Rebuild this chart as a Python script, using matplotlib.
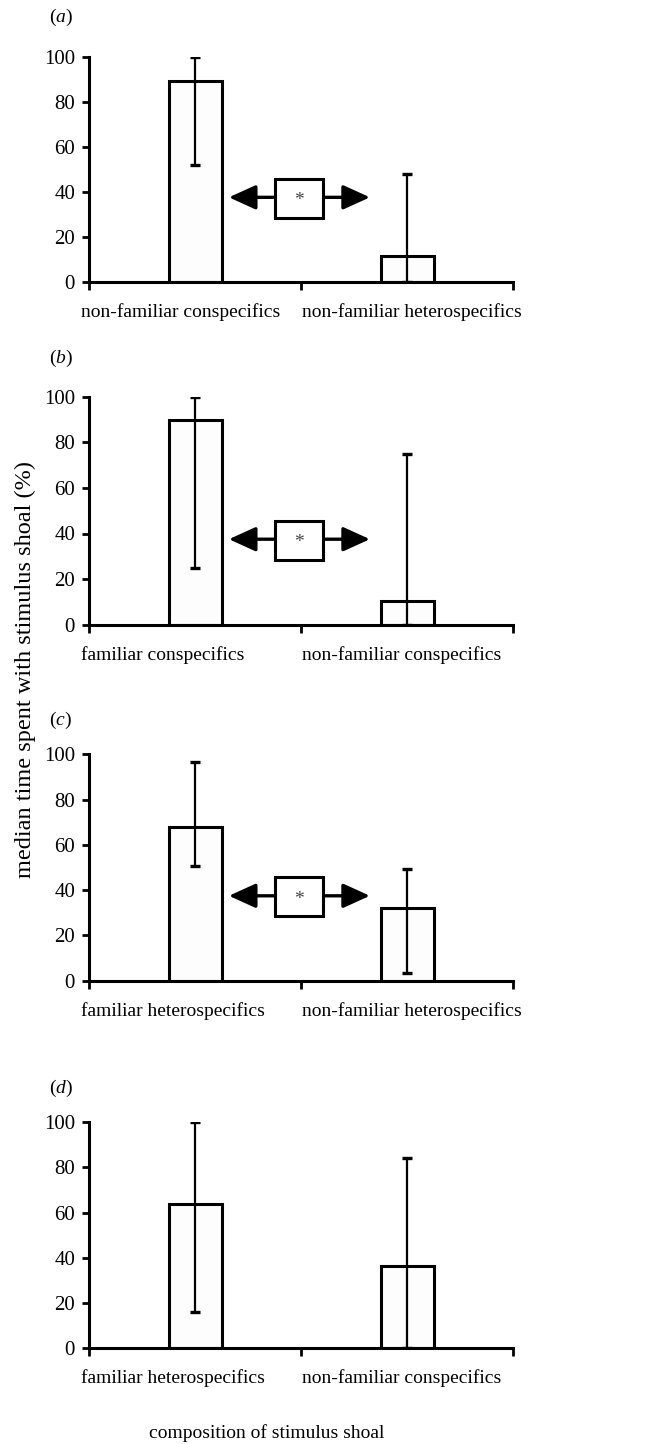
import matplotlib.pyplot as plt
from matplotlib.patches import Rectangle

plt.rcParams["font.family"] = ["Liberation Serif", "DejaVu Serif"]
plt.rcParams["mathtext.fontset"] = "custom"
plt.rcParams["mathtext.rm"] = "Liberation Serif"
plt.rcParams["mathtext.it"] = "Liberation Serif:italic"

# data (median %, with error bar range)
panel_ids = ["a", "b", "c", "d"]
labels_a = ["non-familiar conspecifics", "non-familiar heterospecifics"]
labels_b = ["familiar conspecifics", "non-familiar conspecifics"]
labels_c = ["familiar heterospecifics", "non-familiar heterospecifics"]
labels_d = ["familiar heterospecifics", "non-familiar conspecifics"]

median_a = [89, 11.5]
median_b = [90, 10.5]
median_c = [68, 32]
median_d = [64, 36.5]

low_a = [52, 0]
high_a = [100, 48]
low_b = [25, 0]
high_b = [100, 75]
low_c = [50.5, 3.5]
high_c = [96.5, 49.5]
low_d = [16, 0]
high_d = [100, 84]

significant = [True, True, True, False]

panels = [
    (labels_a, median_a, low_a, high_a),
    (labels_b, median_b, low_b, high_b),
    (labels_c, median_c, low_c, high_c),
    (labels_d, median_d, low_d, high_d),
]

fig = plt.figure(figsize=(6.47, 14.44), dpi=100)
W, H = 647, 1444
# axes boxes in pixels: (top, bottom)
boxes = [(56.7, 281.7), (396.7, 624.7), (754.3, 980.7), (1122.3, 1348.0)]
label_y = [17, 358, 720, 1088]
left_px, right_px = 89, 513
label_shift = [-0.538, -0.495]  # category labels are left-aligned, not centred

for i, (labels, med, lo, hi) in enumerate(panels):
    top, bot = boxes[i]
    ax = fig.add_axes([left_px / W, 1 - bot / H, (right_px - left_px) / W, (bot - top) / H])
    x = list(range(len(med)))
    yerr = [[m - l for m, l in zip(med, lo)], [h - m for m, h in zip(med, hi)]]
    ax.bar(x, med, width=0.25, color="#fdfdfd", edgecolor="black", linewidth=2.2, zorder=2)
    ax.errorbar(x, med, yerr=yerr, fmt="none", ecolor="black", elinewidth=1.6,
                capsize=3.5, capthick=2.4, zorder=3)

    ax.set_xlim(-0.5, 1.5)
    ax.set_ylim(0, 100)
    ax.set_yticks([0, 20, 40, 60, 80, 100])
    ax.set_xticks([-0.5, 0.5, 1.5])
    ax.set_xticklabels([])
    ax.tick_params(axis="y", direction="out", length=5, width=2, labelsize=15, pad=5)
    ax.tick_params(axis="x", direction="out", length=6, width=2)
    for s in ["top", "right"]:
        ax.spines[s].set_visible(False)
    for s in ["left", "bottom"]:
        ax.spines[s].set_linewidth(2.2)

    for k, lab in enumerate(labels):
        ax.text(k + label_shift[k], -0.135, lab, transform=ax.get_xaxis_transform(),
                ha="left", va="center", fontsize=14)

    if significant[i]:
        ax.annotate("", xy=(0.16, 37.5), xytext=(0.825, 37.5),
                    arrowprops=dict(arrowstyle="<|-|>,head_length=1.65,head_width=0.75",
                                    lw=2.4, color="black", shrinkA=0, shrinkB=0))
        ax.add_patch(Rectangle((0.377, 28.5), 0.227, 17.2, facecolor="white",
                               edgecolor="black", linewidth=2.2, zorder=4))
        ax.text(0.49, 36.0, "*", ha="center", va="center", fontsize=14,
                color="#444444", zorder=5)

    fig.text(49 / W, 1 - label_y[i] / H, "($\\it{%s}$)" % panel_ids[i],
             ha="left", va="center", fontsize=14)

fig.text(25 / W, 1 - 670 / H, "median time spent with stimulus shoal (%)",
         rotation=90, ha="center", va="center", fontsize=17.5)
fig.text(267 / W, 1 - 1433 / H, "composition of stimulus shoal",
         ha="center", va="center", fontsize=14)

fig.savefig("out.png", dpi=100)
